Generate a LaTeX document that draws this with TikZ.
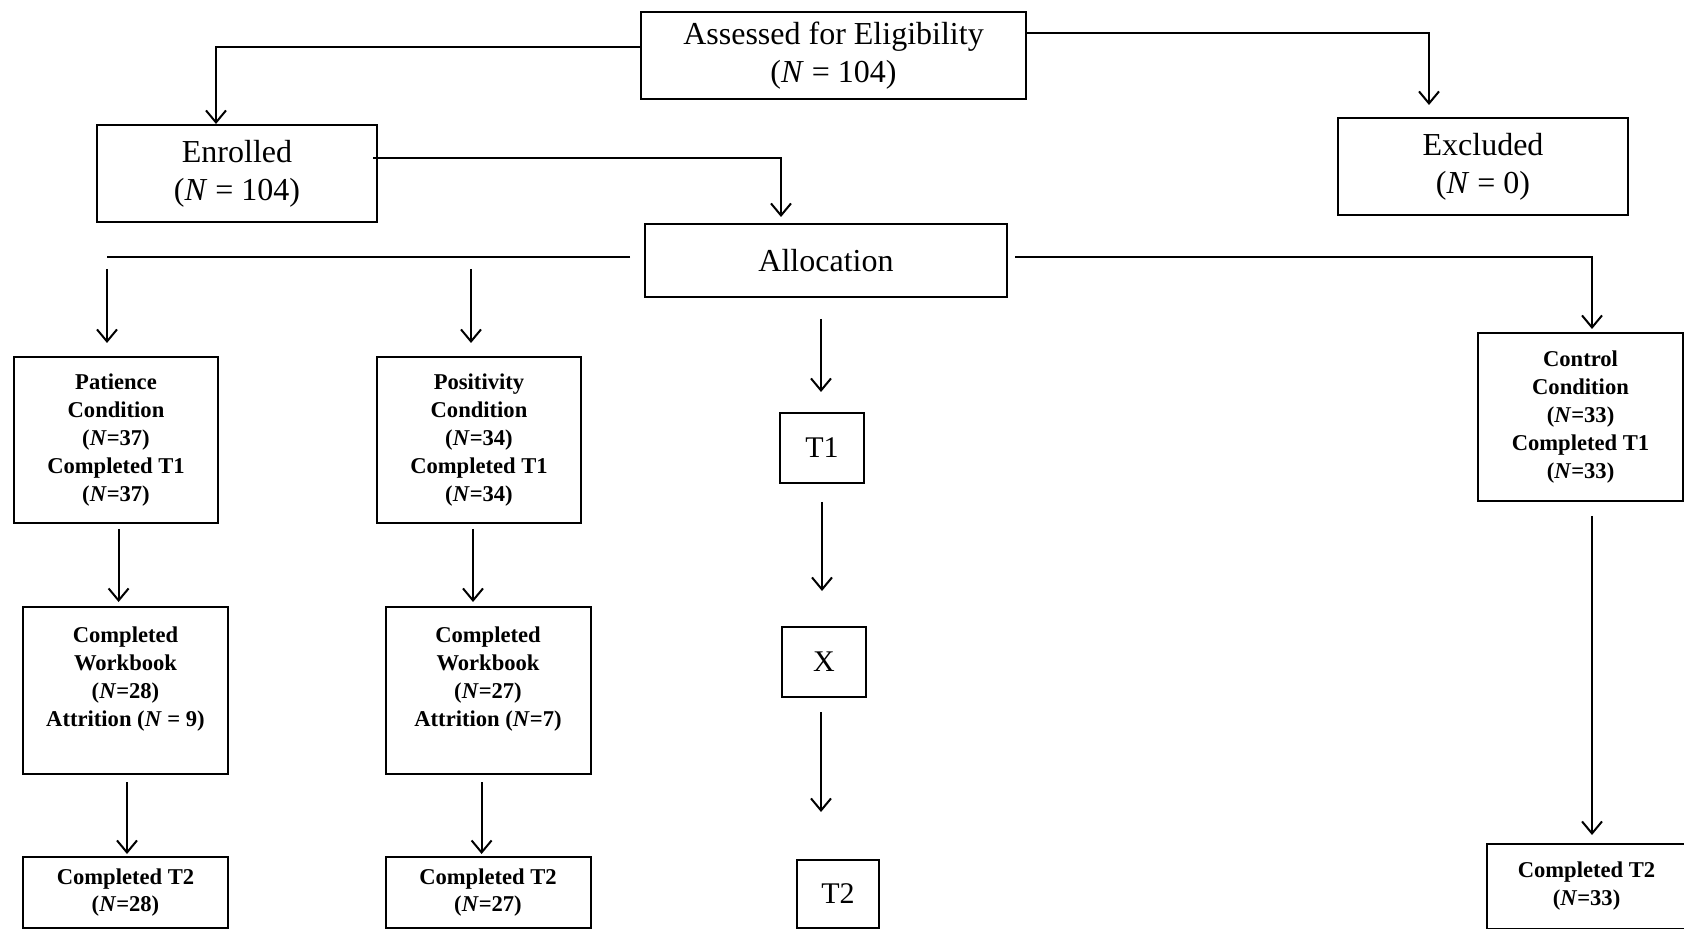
\documentclass[tikz,border=0pt]{standalone}
\usepackage{fontspec}
\setmainfont{Liberation Serif}
\usetikzlibrary{arrows.meta}

\begin{document}
\begin{tikzpicture}[x=0.5pt,y=-0.5pt,
  box/.style={draw=black, line width=1pt, inner sep=0pt, align=center},
  big/.style={box, font=\fontsize{16}{19}\selectfont},
  cond/.style={box, font=\fontsize{11.3}{13.9}\selectfont\bfseries,
    minimum width=102.5pt},
  mid/.style={box, font=\fontsize{15}{18}\selectfont,
    minimum width=42pt, minimum height=35pt},
  tip/.style={-{Straight Barb[length=6pt,width=10pt,line width=1pt]}},
  link/.style={line width=1.45pt},
  arr/.style={line width=1pt, tip},
]
\path[use as bounding box, fill=white] (0,0) rectangle (1684,929);

% top row
\node[big, minimum width=192.5pt, minimum height=43.5pt] (assessed) at (833.5,55.5)
  {Assessed for Eligibility\\(\textit{N} = 104)};
\node[big, minimum width=140pt, minimum height=48.5pt] (enrolled) at (237,173.5)
  {Enrolled\\(\textit{N} = 104)};
\node[big, minimum width=145pt, minimum height=48.5pt] (excluded) at (1483,166.5)
  {Excluded\\(\textit{N} = 0)};
\node[big, minimum width=181pt, minimum height=36.5pt] (alloc) at (826,260.5)
  {Allocation};

% condition boxes
\node[cond, minimum width=102pt, minimum height=83pt] (pat) at (116,440)
  {Patience\\Condition\\(\textit{N}=37)\\Completed T1\\(\textit{N}=37)};
\node[cond, minimum width=102pt, minimum height=83pt] (pos) at (479,440)
  {Positivity\\Condition\\(\textit{N}=34)\\Completed T1\\(\textit{N}=34)};
\node[cond, minimum height=84pt] (ctrl) at (1580.5,417)
  {Control\\Condition\\(\textit{N}=33)\\Completed T1\\(\textit{N}=33)};

\node[cond, minimum height=83.5pt] (wb1) at (125.5,690.5)
  {Completed\\Workbook\\(\textit{N}=28)\\Attrition (\textit{N} = 9)\\~};
\node[cond, minimum height=83.5pt] (wb2) at (488,690.5)
  {Completed\\Workbook\\(\textit{N}=27)\\Attrition (\textit{N}=7)\\~};

\node[cond, minimum height=35.5pt] (t2a) at (125.5,892.5)
  {Completed T2\\(\textit{N}=28)};
\node[cond, minimum height=35.5pt] (t2b) at (488,892.5)
  {Completed T2\\(\textit{N}=27)};
\node[cond, minimum width=99.5pt, minimum height=42.75pt] (ct2) at (1586.5,886.25)
  {Completed T2\\(\textit{N}=33)};

% design column
\node[mid] (t1) at (822,448) {T1};
\node[mid] (xb) at (824,662) {X};
\node[mid, minimum width=41pt, minimum height=34pt] (t2m) at (838,894) {T2};

% connectors from the top boxes
\coordinate (c1) at (216,47);
\draw[link,tip] (assessed.west |- c1) -- (c1) -- (c1 |- enrolled.north);
\coordinate (c2) at (1429,33);
\draw[link,tip,shorten >=6pt] (assessed.east |- c2) -- (c2) -- (c2 |- excluded.north);
\coordinate (c3) at (781,158);
\draw[link,tip,shorten <=-2.5pt,shorten >=3pt] (enrolled.east |- c3) -- (c3) -- (c3 |- alloc.north);

% allocation branches
\coordinate (lb) at (107,257);
\draw[link,shorten <=7pt] (alloc.west |- lb) -- (lb);
\coordinate (pa) at (107,269);
\coordinate (qa) at (471,269);
\draw[arr,shorten >=6.5pt] (pa) -- (pa |- pat.north);
\draw[arr,shorten >=6.5pt] (qa) -- (qa |- pos.north);
\coordinate (rb) at (1592,257);
\draw[link,tip,shorten <=3.5pt,shorten >=1.5pt] (alloc.east |- rb) -- (rb) -- (rb |- ctrl.north);

% vertical arrows
\coordinate (kp1) at (118.6,0);
\coordinate (kq1) at (473,0);
\coordinate (kp2) at (127,0);
\coordinate (kq2) at (481.6,0);
\coordinate (km1) at (821,0);
\coordinate (km2) at (822,0);
\coordinate (kc) at (1592,0);
\draw[arr,shorten <=2.5pt,shorten >=2pt] (pat.south -| kp1) -- (wb1.north -| kp1);
\draw[arr,shorten <=2.5pt,shorten >=2pt] (pos.south -| kq1) -- (wb2.north -| kq1);
\draw[arr,shorten <=3.5pt,shorten >=1pt] (wb1.south -| kp2) -- (t2a.north -| kp2);
\draw[arr,shorten <=3.5pt,shorten >=1pt] (wb2.south -| kq2) -- (t2b.north -| kq2);
\draw[arr,shorten <=10.5pt,shorten >=10pt] (alloc.south -| km1) -- (t1.north -| km1);
\draw[arr,line width=1.4pt,shorten <=9pt,shorten >=17.5pt] (t1.south -| km2) -- (xb.north -| km2);
\draw[arr,shorten <=7pt,shorten >=23.5pt] (xb.south -| km1) -- (t2m.north -| km1);
\draw[arr,shorten <=7pt,shorten >=3.75pt] (ctrl.south -| kc) -- (ct2.north -| kc);
\end{tikzpicture}
\end{document}
